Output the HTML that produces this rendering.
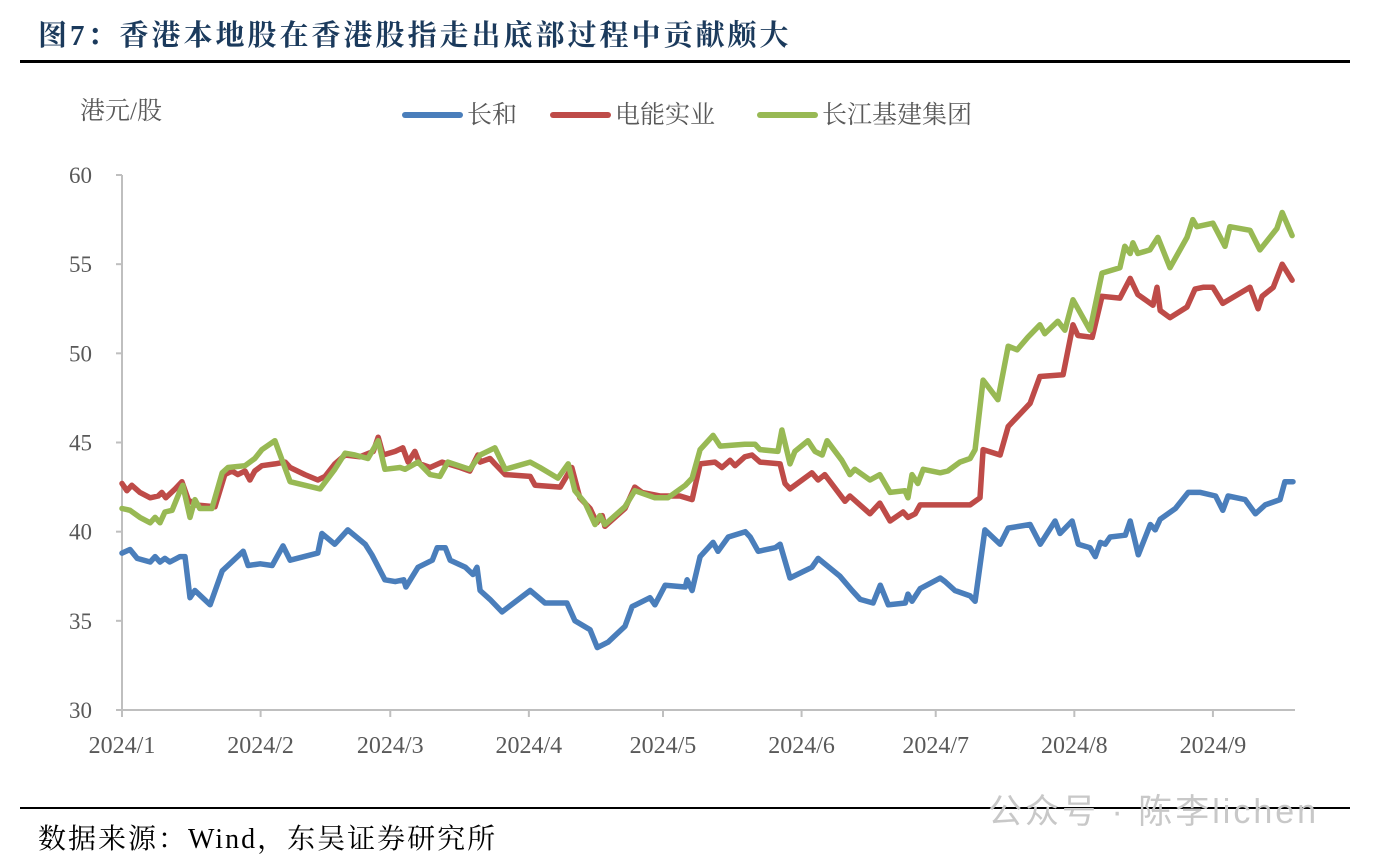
<!DOCTYPE html>
<html><head><meta charset="utf-8">
<style>
html,body{margin:0;padding:0;background:#fff;width:1373px;height:862px;overflow:hidden;}
.t{position:absolute;font-family:"Liberation Serif","Noto Serif CJK SC",serif;white-space:nowrap;}
</style></head>
<body>
<div class="t" style="left:38px;top:13px;font-size:29px;font-weight:bold;color:#1b3a5c;letter-spacing:3px;">图7：香港本地股在香港股指走出底部过程中贡献颇大</div>
<div style="position:absolute;left:20px;top:60px;width:1330px;height:3px;background:#000;"></div>
<div style="position:absolute;left:20px;top:807px;width:1330px;height:2px;background:#000;"></div>
<div class="t" style="left:38px;top:817px;font-size:28px;color:#000;letter-spacing:2px;">数据来源：Wind，东吴证券研究所</div>
<div class="t" style="left:988px;top:784px;font-family:'Liberation Sans','Noto Sans CJK SC',sans-serif;font-size:34px;color:#c8c8c8;letter-spacing:3px;">公众号 · 陈李lichen</div>
<svg id="chart" width="1373" height="862" style="position:absolute;left:0;top:0;" xmlns="http://www.w3.org/2000/svg"></svg>
<script>
const yTicks=[30,35,40,45,50,55,60];
const xTickLabels=["2024/1","2024/2","2024/3","2024/4","2024/5","2024/6","2024/7","2024/8","2024/9"];
const xTickDays=[0,31,60,91,121,152,182,213,244];
const ckhDays=[0,1.8,3.4,6.3,7.4,8.5,9.6,10.7,13,14.1,15.2,16.3,19.7,22.4,23.7,27.1,28.2,30.9,33.6,36,37.6,43.8,44.7,47.6,50.5,54.4,55.9,58.8,61.1,63,63.5,66.2,69.4,70.5,72.3,73.4,76.8,78.5,79.4,80.1,82.3,85,91.3,94.6,99.5,101.3,104.7,106.3,108.7,112.5,114.1,118.1,119.2,121.5,126,126.4,127.5,129.3,132.2,133.3,135.6,139.4,140.5,142.3,146.1,147.2,149.4,154.3,155.7,160.6,163.3,165.1,168,169.6,171.4,175.2,175.8,176.7,178.5,183,184.1,186.3,189.7,190.8,193,196.4,198.2,203.1,205.4,208.7,209.8,212.5,213.9,216.5,217.7,218.8,219.9,221,224.4,225.5,227.3,230,231.1,232.2,235.6,238.5,241.2,244.6,246.2,247.4,251.2,253.5,255.7,259,260.1,261.9];
const ckhVals=[38.8,39.0,38.5,38.3,38.6,38.3,38.5,38.3,38.6,38.6,36.3,36.7,35.9,37.8,38.1,38.9,38.1,38.2,38.1,39.2,38.4,38.8,39.9,39.3,40.1,39.3,38.7,37.3,37.2,37.3,36.9,38.0,38.4,39.1,39.1,38.4,38.0,37.6,38.0,36.7,36.2,35.5,36.7,36.0,36.0,35.0,34.5,33.5,33.8,34.7,35.8,36.3,35.9,37.0,36.9,37.3,36.7,38.6,39.4,38.9,39.7,40.0,39.7,38.9,39.1,39.3,37.4,38.0,38.5,37.5,36.7,36.2,36.0,37.0,35.9,36.0,36.5,36.1,36.8,37.4,37.2,36.7,36.4,36.1,40.1,39.3,40.2,40.4,39.3,40.6,39.9,40.6,39.3,39.1,38.6,39.4,39.3,39.7,39.8,40.6,38.7,40.4,40.1,40.7,41.3,42.2,42.2,42.0,41.2,42.0,41.8,41.0,41.5,41.8,42.8,42.8];
const hkeDays=[0,1.1,2.2,4,6.3,8.1,8.9,9.8,11.9,13.4,14.8,16.3,20.8,23,24.6,25.9,27.5,28.6,29.7,31.3,34.2,36.5,37.6,40.9,43.8,45.4,47.6,49.9,53.2,56.2,57.3,58.4,61.1,62.8,64,65.5,66.6,68.9,71.6,75.6,77.8,79.6,80.1,82.3,83.4,85.7,91.3,92.4,98,100.6,102.4,104.7,106.2,107.4,108,112.5,114.7,116.3,120.3,124.8,127.5,129.3,132.6,134.2,136,137.1,139.3,140.9,142.7,147.2,148.3,149.4,154.3,155.7,157.2,161.7,162.8,167.3,169.5,171.8,174.7,175.8,177.4,178.5,184.1,185.2,189.7,191.9,192.6,196.4,198.2,203.1,205.3,210.5,212.7,213.8,217,219.2,223.2,225.5,227.2,230.6,231.5,232.2,234.4,238.2,240,241.8,244,246.2,252.3,254.1,255,257.5,259.5,261.7];
const hkeVals=[42.7,42.3,42.6,42.2,41.9,42.0,42.2,41.9,42.4,42.8,41.8,41.5,41.4,43.2,43.4,43.2,43.4,42.9,43.4,43.7,43.8,43.9,43.6,43.2,42.9,43.1,43.8,44.3,44.2,44.5,45.3,44.3,44.5,44.7,43.9,44.5,43.8,43.6,43.9,43.6,43.4,44.3,43.9,44.1,43.8,43.2,43.1,42.6,42.5,43.6,41.9,41.3,40.5,40.9,40.3,41.3,42.5,42.2,42.0,42.0,41.8,43.8,43.9,43.6,44.0,43.7,44.2,44.3,43.9,43.8,42.7,42.4,43.3,42.9,43.2,41.7,42.0,41.0,41.6,40.6,41.1,40.8,41.0,41.5,41.5,41.5,41.5,41.9,44.6,44.3,45.9,47.2,48.7,48.8,51.6,51.0,50.9,53.2,53.1,54.2,53.3,52.7,53.7,52.4,52.0,52.6,53.6,53.7,53.7,52.8,53.7,52.5,53.2,53.7,55.0,54.1];
const ckiDays=[0,1.8,4,6.3,7.4,8.5,9.6,11.2,13,13.6,15.2,16.3,17.4,20.1,22.4,23.7,27.5,29.7,31.3,34.2,37.6,44.3,47.6,49.9,52.1,55,57.3,58.8,62.2,63.3,66.2,68.9,71.1,72.9,77.8,80.1,83.4,85.7,91.3,93.5,97.5,99.8,101.3,103.6,105.8,106.9,108,112.5,114.7,119.2,122.1,126,127.5,129.3,132.2,133.8,139.3,141.6,142.7,146.7,147.6,149.4,150.5,153.4,155,156.6,157.7,161,162.8,163.9,167.3,169.5,171.8,175.1,175.8,176.7,178,179.2,183,184.7,187.4,189.7,190.8,192.6,195.9,198.2,200.2,202.6,205.3,206.4,209.3,210.9,212.7,216.5,219.2,223.2,224.3,225.5,226.1,227.2,229.9,231.7,234.4,238.2,239.5,240.4,244,246.7,247.8,252.3,254.5,258.3,259.5,261.7];
const ckiVals=[41.3,41.2,40.8,40.5,40.8,40.5,41.1,41.2,42.3,42.6,40.8,41.8,41.3,41.3,43.3,43.6,43.7,44.1,44.6,45.1,42.8,42.4,43.5,44.4,44.3,44.1,45.1,43.5,43.6,43.5,43.9,43.2,43.1,43.9,43.5,44.3,44.7,43.5,43.9,43.6,43.0,43.8,42.3,41.6,40.4,40.9,40.4,41.4,42.3,41.9,41.9,42.6,43.0,44.6,45.4,44.8,44.9,44.9,44.6,44.5,45.7,43.8,44.5,45.1,44.5,44.3,45.1,44.0,43.2,43.5,42.9,43.2,42.2,42.3,41.9,43.2,42.7,43.5,43.3,43.4,43.9,44.1,44.6,48.5,47.4,50.4,50.2,50.9,51.6,51.1,51.8,51.3,53.0,51.3,54.5,54.8,56.0,55.6,56.2,55.6,55.8,56.5,54.8,56.5,57.5,57.1,57.3,56.0,57.1,56.9,55.8,57.0,57.9,56.6];

const NS="http://www.w3.org/2000/svg";
const svg=document.getElementById('chart');
const X0=122,PX_PER_DAY=4.471,Y0=710,Y1=175,VMIN=30,VMAX=60;
function xs(d){return X0+d*PX_PER_DAY;}
function ys(v){return Y0-(v-VMIN)/(VMAX-VMIN)*(Y0-Y1);}
function mk(tag,attrs){const e=document.createElementNS(NS,tag);for(const k in attrs)e.setAttribute(k,attrs[k]);svg.appendChild(e);return e;}
const FONT='"Liberation Serif","Noto Serif CJK SC",serif';

let ax=mk('line',{x1:X0,y1:Y1,x2:X0,y2:Y0,stroke:'#bfbfbf','stroke-width':2});


let bx=mk('line',{x1:X0,y1:Y0,x2:1295,y2:Y0,stroke:'#bfbfbf','stroke-width':2});


yTicks.forEach(v=>{
  const tk=mk('line',{x1:X0-6,y1:ys(v),x2:X0,y2:ys(v),stroke:'#bfbfbf','stroke-width':2});
  
  
  const t=mk('text',{x:X0-30,y:ys(v)+8,'text-anchor':'end','font-size':23,fill:'#595959','font-family':FONT});
  t.textContent=v;
  
  
});
xTickDays.forEach((d,i)=>{
  const tk=mk('line',{x1:xs(d),y1:Y0,x2:xs(d),y2:Y0+7,stroke:'#bfbfbf','stroke-width':2});
  
  
  const t=mk('text',{x:xs(d),y:753,'text-anchor':'middle','font-size':24,fill:'#595959','font-family':FONT});
  t.textContent=xTickLabels[i];
  
  
});
const unit=mk('text',{x:80,y:119,'font-size':25,fill:'#595959','font-family':FONT});
unit.textContent='港元/股';



function series(days,vals,color,name){
  const pts=days.map((d,i)=>xs(d).toFixed(1)+','+ys(vals[i]).toFixed(1)).join(' ');
  const p=mk('polyline',{points:pts,fill:'none',stroke:color,'stroke-width':5.5,'stroke-linejoin':'round','stroke-linecap':'round'});
  
  
}
series(ckhDays,ckhVals,'#4a7ebb','series-ckh');
series(hkeDays,hkeVals,'#be4b48','series-hk-electric');
series(ckiDays,ckiVals,'#98b954','series-cki');

const legend=[['长和','#4a7ebb',405],['电能实业','#be4b48',553],['长江基建集团','#98b954',760]];
legend.forEach(l=>{
  const ln=mk('line',{x1:l[2],y1:115,x2:l[2]+55,y2:115,stroke:l[1],'stroke-width':6,'stroke-linecap':'round'});
  
  
  const t=mk('text',{x:l[2]+62,y:123,'font-size':25,fill:'#595959','font-family':FONT});
  t.textContent=l[0];
  
  
});
</script>
</body></html>
